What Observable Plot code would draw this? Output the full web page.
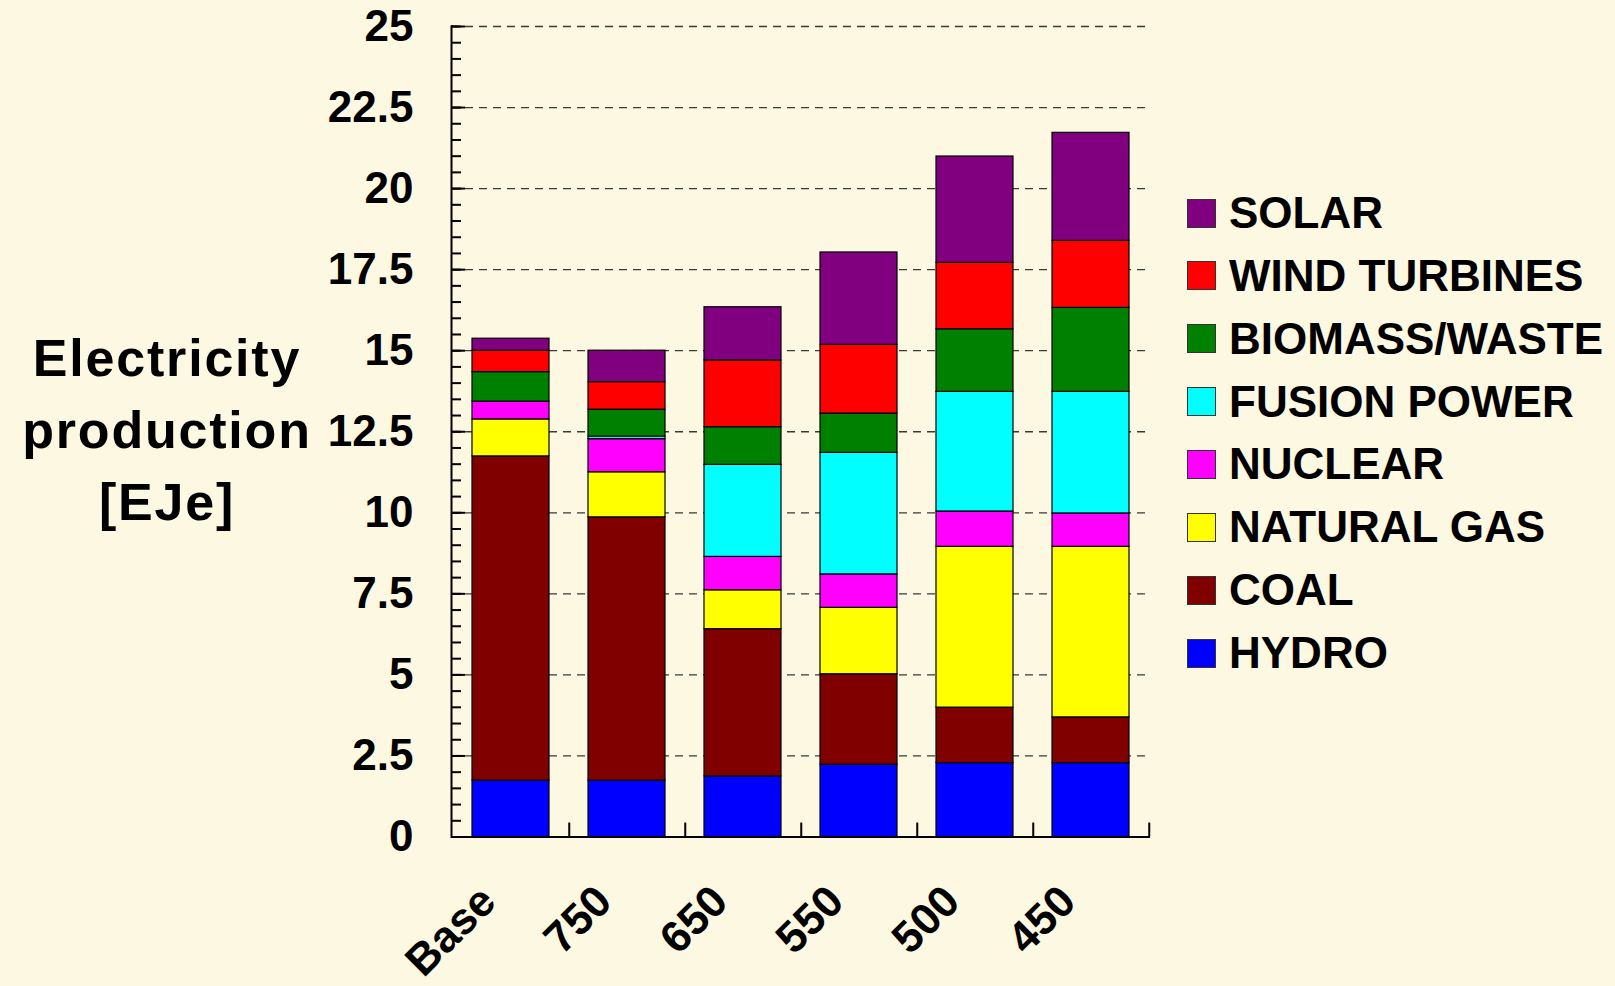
<!DOCTYPE html>
<html>
<head>
<meta charset="utf-8">
<script src="https://cdn.jsdelivr.net/npm/d3@7"></script>
<script src="https://cdn.jsdelivr.net/npm/@observablehq/plot@0.6"></script>
<style>
  html, body { margin: 0; padding: 0; background: #FDF8E1; }
  #wrap { position: relative; width: 1615px; height: 986px; font-family: "Liberation Sans", Arial, sans-serif; font-weight: bold; color: #000; }
  #chart { position: absolute; left: 0; top: 0; }
  #ylabel { position: absolute; left: 0; width: 330px; top: 322px; text-align: center; font-size: 52px; line-height: 72px; letter-spacing: 1.8px; padding-left: 2px; }
  #legend { position: absolute; left: 1187px; top: 0; }
  .row { position: absolute; left: 0; height: 62px; display: flex; align-items: center; white-space: nowrap; }
  .sw { width: 27px; height: 27px; border: 1px solid #333; box-sizing: content-box; margin-right: 13px; }
  .lt { font-size: 44px; line-height: 44px; }
</style>
</head>
<body>
<div id="wrap">
  <div id="chart"></div>
  <div id="ylabel">Electricity<br>production<br>[EJe]</div>
  <div id="legend"></div>
</div>
<script>
// ---- data (EJe) ----
const scenarios = ["Base", "750", "650", "550", "500", "450"];
const sources = ["HYDRO", "COAL", "NATURAL GAS", "NUCLEAR", "FUSION POWER", "BIOMASS/WASTE", "WIND TURBINES", "SOLAR"];
const colors  = ["#0000FF", "#800000", "#FFFF00", "#FF00FF", "#00FFFF", "#008000", "#FF0000", "#800080"];
const hydro   = [1.74, 1.74, 1.87, 2.23, 2.28, 2.28];
const coal    = [10.00, 8.12, 4.54, 2.79, 1.71, 1.41];
const gas     = [1.14, 1.39, 1.20, 2.05, 4.96, 5.26];
const nuclear = [0.55, 1.02, 1.03, 1.03, 1.09, 1.03];
const fusion  = [0.00, 0.08, 2.84, 3.75, 3.69, 3.75];
const biomass = [0.91, 0.83, 1.16, 1.21, 1.93, 2.59];
const wind    = [0.66, 0.85, 2.06, 2.12, 2.05, 2.07];
const solar   = [0.37, 0.97, 1.64, 2.85, 3.28, 3.33];
const yMajor = [0, 2.5, 5, 7.5, 10, 12.5, 15, 17.5, 20, 22.5, 25];
const yMinor = d3.range(0, 25.001, 0.5);

const series = [hydro, coal, gas, nuclear, fusion, biomass, wind, solar];
const data = [];
sources.forEach((s, i) => scenarios.forEach((c, j) => data.push({scenario: c, source: s, value: series[i][j]})));

const chart = Plot.plot({
  width: 1615,
  height: 986,
  marginLeft: 451,
  marginRight: 465,
  marginTop: 26,
  marginBottom: 149.5,
  style: {background: "transparent", fontFamily: "Liberation Sans, Arial, sans-serif", color: "#000"},
  x: {domain: scenarios, paddingInner: 0.34, paddingOuter: 0.17, axis: null},
  y: {domain: [0, 25], axis: null},
  color: {domain: sources, range: colors},
  marks: [
    Plot.gridY(yMajor.filter(v => v > 0), {stroke: "#3a3a3a", strokeOpacity: 1, strokeWidth: 1.3, strokeDasharray: "8,6"}),
    Plot.barY(data, {x: "scenario", y: "value", fill: "source", order: sources, stroke: "#000", strokeWidth: 1.2}),
    Plot.axisY({ticks: yMinor, tickSize: -10, tickFormat: () => "", strokeWidth: 2, label: null}),
    Plot.axisY({ticks: yMajor, tickSize: -14, tickFormat: () => "", strokeWidth: 2, label: null}),
    Plot.axisY({ticks: yMajor, tickSize: 0, tickPadding: 38, tickFormat: d => String(d), fontSize: 44, fontWeight: "bold", label: null}),
    Plot.ruleX(scenarios, {x: d => d, dx: 58.25, y1: 0, y2: 0.43, strokeWidth: 2}),
    Plot.text(scenarios, {x: d => d, y: 0, text: d => d, rotate: -45, textAnchor: "end", lineAnchor: "bottom", dx: -13, dy: 67, fontSize: 44, fontWeight: "bold"}),
    Plot.frame({anchor: "left", strokeWidth: 2}),
    Plot.ruleY([0], {strokeWidth: 2})
  ]
});
document.getElementById("chart").appendChild(chart);

// ---- legend ----
const legend = document.getElementById("legend");
const legendOrder = sources.map((s, i) => i).reverse();
legendOrder.forEach((i, k) => {
  const row = document.createElement("div");
  row.className = "row";
  row.style.top = (213 + k * 62.86 - 31) + "px";
  const sw = document.createElement("div");
  sw.className = "sw";
  sw.style.background = colors[i];
  const t = document.createElement("span");
  t.className = "lt";
  t.textContent = sources[i];
  row.appendChild(sw);
  row.appendChild(t);
  legend.appendChild(row);
});
</script>
</body>
</html>
